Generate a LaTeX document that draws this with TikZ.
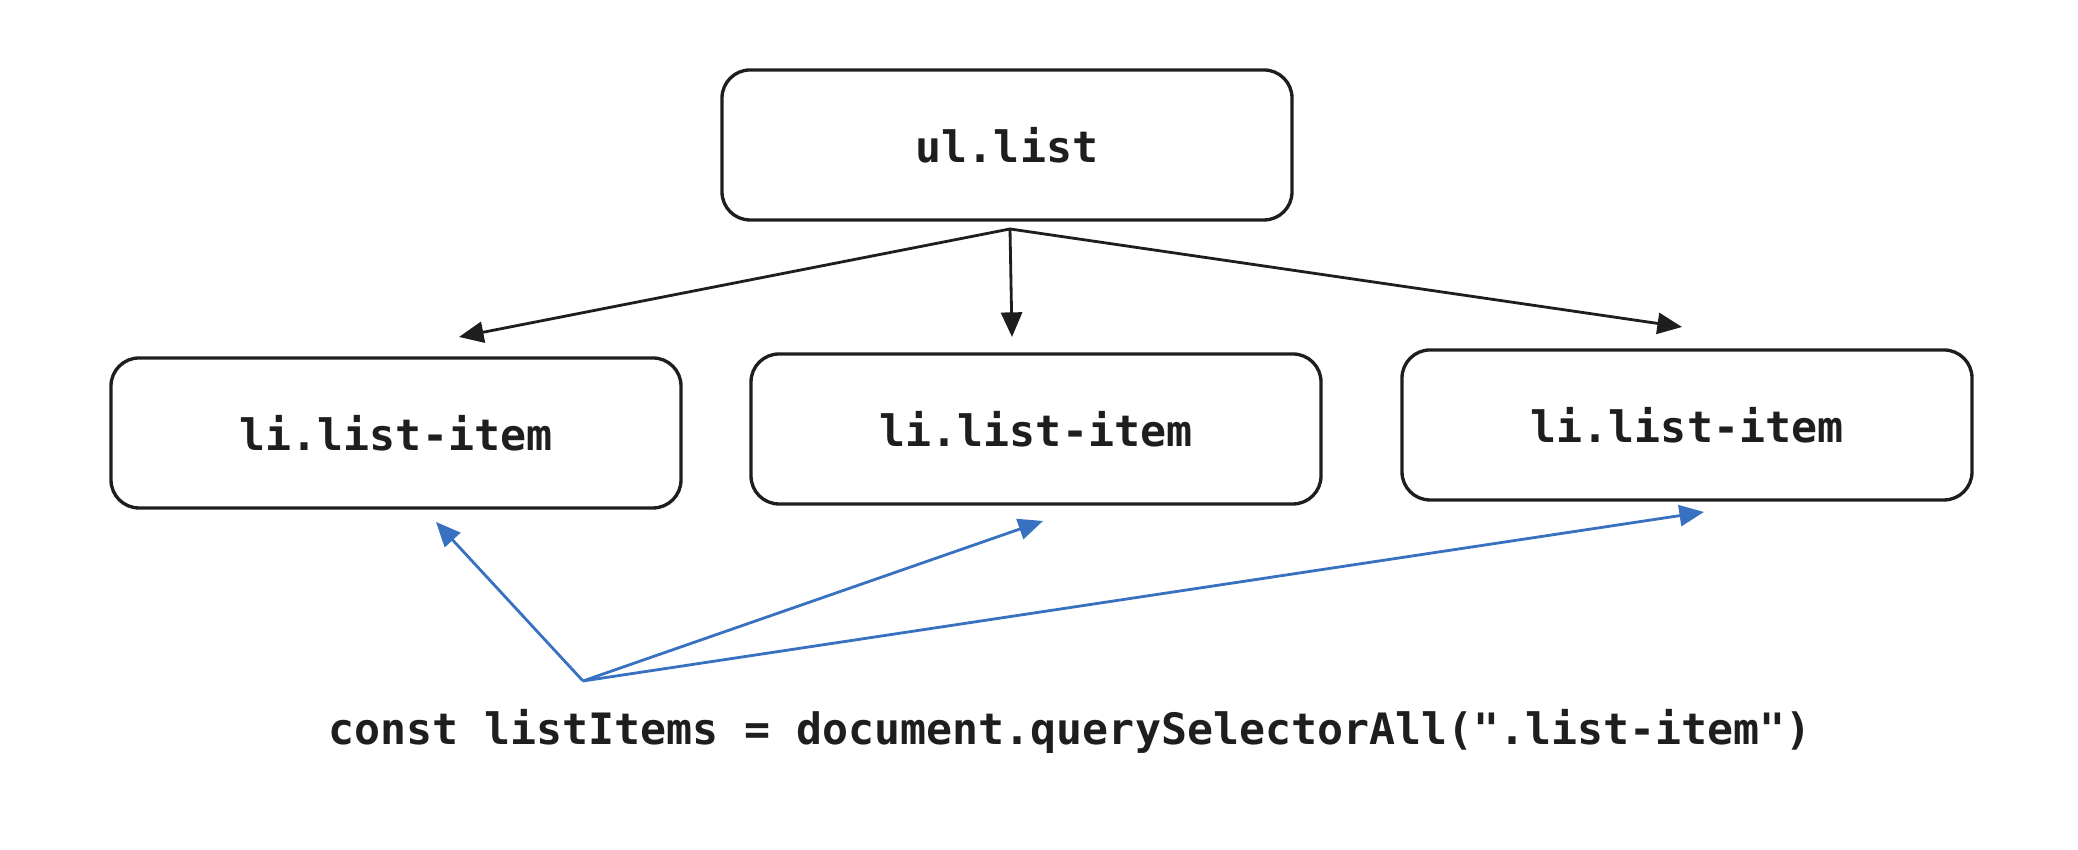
\documentclass[tikz,border=0pt]{standalone}
\usepackage{fontspec}
\setmonofont{DejaVu Sans Mono}
\usetikzlibrary{arrows.meta}
\definecolor{ink}{HTML}{1E1E1E}
\definecolor{selblue}{HTML}{3971C1}
\begin{document}
\begin{tikzpicture}[>={Triangle[length=7pt,width=6pt]},
    box/.style={draw=ink, line width=0.95pt, rounded corners=0.28cm,
        minimum width=5.7cm, minimum height=1.5cm,
        font=\ttfamily\bfseries\fontsize{12.3pt}{14pt}\selectfont, text=ink},
    arr/.style={->, draw=ink, fill=ink, line width=0.8pt},
    selarr/.style={->, draw=selblue, fill=selblue, line width=0.8pt}]
    \useasboundingbox (0,0) rectangle (20.78,8.5);

    \node[box] (ul) at (10.07,7.05) {ul.list};
    \node[box] (li1) at (3.96,4.17) {li.list-item};
    \node[box] (li2) at (10.36,4.21) {li.list-item};
    \node[box] (li3) at (16.87,4.25) {li.list-item};

    \node[font=\ttfamily\bfseries\fontsize{12.3pt}{14pt}\selectfont, text=ink]
        (query) at (10.70,1.19) {const listItems = document.querySelectorAll(".list-item")};

    \coordinate (fork) at (10.10,6.21);
    \coordinate (tipA) at (4.59,5.13);
    \coordinate (tipB) at (10.12,5.13);
    \coordinate (tipC) at (16.82,5.23);

    \draw[arr] (fork) -- (tipA);
    \draw[arr] (fork) -- (tipB);
    \draw[arr] (fork) -- (tipC);

    \coordinate (src) at (5.83,1.69);
    \coordinate (selA) at (4.36,3.28);
    \coordinate (selB) at (10.43,3.29);
    \coordinate (selC) at (17.04,3.38);

    \draw[selarr] (src) -- (selA);
    \draw[selarr] (src) -- (selB);
    \draw[selarr] (src) -- (selC);
\end{tikzpicture}
\end{document}
